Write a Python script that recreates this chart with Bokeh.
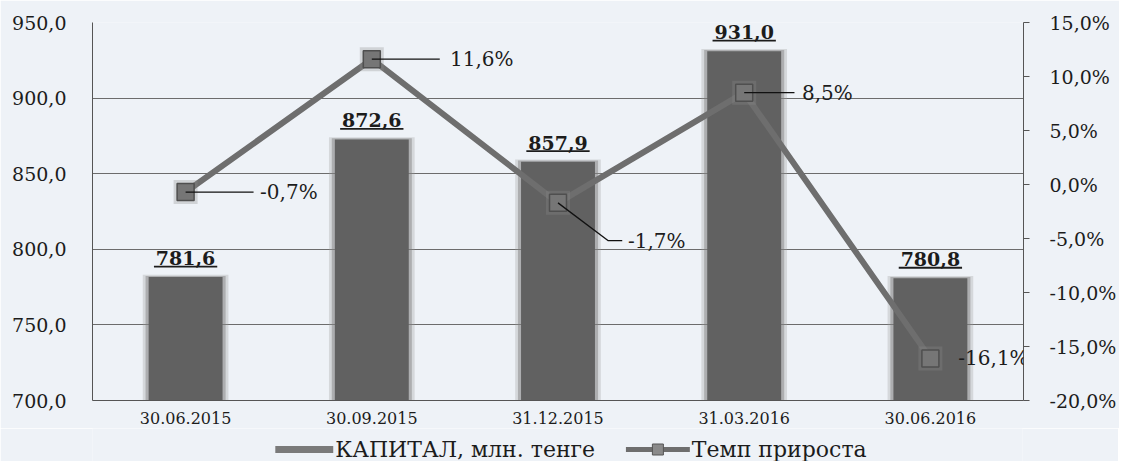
from bokeh.plotting import figure
from bokeh.layouts import column
from bokeh.models import (Range1d, LinearAxis, FixedTicker, CustomJSTickFormatter,
                          ColumnDataSource, LabelSet)
from bokeh.embed import file_html
from bokeh.resources import INLINE
from bokeh.core.properties import value

# ---------------- data ----------------
dates = ["30.06.2015", "30.09.2015", "31.12.2015", "31.03.2016", "30.06.2016"]
capital = [781.6, 872.6, 857.9, 931.0, 780.8]
growth = [-0.7, 11.6, -1.7, 8.5, -16.1]
capital_labels = ["781,6", "872,6", "857,9", "931,0", "780,8"]
growth_labels = ["-0,7%", "11,6%", "-1,7%", "8,5%", "-16,1%"]
series_names = ["КАПИТАЛ, млн. тенге", "Темп прироста"]
left_ticks = [700, 750, 800, 850, 900, 950]
right_ticks = [-20, -15, -10, -5, 0, 5, 10, 15]

# ---------------- label layout (offsets, axis units) ----------------
lead_bend_dx = [0, 0, 0.27, 0, 0]
lead_end_dx = [0.365, 0.365, 0.345, 0.27, 0]
lead_dy = [0, 0, -3.5, 0, 0]
label_dx = [0.40, 0.42, 0.376, 0.31, 0.15]

FONT = "DejaVu Serif"
BG = "#eef2f7"
TXT = "#1c1c1c"
BAR = "#616161"
LINE = "#6e6e6e"

xs = list(range(1, len(dates) + 1))

p = figure(frame_width=931, frame_height=378, output_backend="svg", toolbar_location=None,
           x_range=Range1d(0.5, len(dates) + 0.5), y_range=Range1d(700, 950),
           min_border_left=92, min_border_right=95, min_border_top=22,
           min_border_bottom=28)
p.background_fill_color = BG
p.border_fill_color = BG
p.outline_line_color = None

p.extra_y_ranges = {"pct": Range1d(-20, 15)}

# axes
p.xaxis.ticker = FixedTicker(ticks=xs)
p.xaxis.major_label_overrides = {x: d for x, d in zip(xs, dates)}
p.xaxis.major_tick_line_color = None
p.xaxis.minor_tick_line_color = None
p.xaxis.axis_line_color = "#555555"
p.xaxis.major_label_text_font = FONT
p.xaxis.major_label_text_font_size = "16px"
p.xaxis.major_label_text_color = TXT
p.xaxis.major_label_standoff = 5

p.yaxis.ticker = FixedTicker(ticks=left_ticks)
p.yaxis.formatter = CustomJSTickFormatter(code="return tick.toFixed(1).replace('.', ',');")
p.yaxis.major_tick_line_color = None
p.yaxis.minor_tick_line_color = None
p.yaxis.axis_line_color = "#555555"
p.yaxis.major_label_text_font = FONT
p.yaxis.major_label_text_font_size = "19px"
p.yaxis.major_label_text_color = TXT
p.yaxis.major_label_standoff = 20

raxis = LinearAxis(y_range_name="pct", ticker=FixedTicker(ticks=right_ticks),
                   formatter=CustomJSTickFormatter(code="return tick.toFixed(1).replace('.', ',') + '%';"))
raxis.major_tick_out = 6
raxis.major_tick_in = 0
raxis.major_tick_line_color = "#555555"
raxis.minor_tick_line_color = None
raxis.axis_line_color = "#555555"
raxis.major_label_text_font = FONT
raxis.major_label_text_font_size = "19px"
raxis.major_label_text_color = TXT
raxis.major_label_standoff = 20
p.add_layout(raxis, "right")

p.xgrid.grid_line_color = None
p.ygrid.grid_line_color = "#6c6c6c"
p.ygrid.grid_line_width = 1

# bars (soft halo + core)
p.vbar(x=xs, width=0.46, bottom=700, top=[c + 1.5 for c in capital],
       fill_color="#9a9a9a", fill_alpha=0.30, line_color=None)
p.vbar(x=xs, width=0.43, bottom=700, top=[c + 0.8 for c in capital],
       fill_color="#7c7c7c", fill_alpha=0.45, line_color=None)
p.vbar(x=xs, width=0.397, bottom=700, top=capital, fill_color=BAR, line_color=None)

# bar labels, bold + underline
bar_lab_src = ColumnDataSource(dict(x=xs, y=[c + 12.6 for c in capital], t=capital_labels))
p.add_layout(LabelSet(x="x", y="y", text="t", source=bar_lab_src,
                      text_align="center", text_baseline="middle",
                      text_font=value(FONT), text_font_style="bold",
                      text_font_size="19px", text_color=TXT))
p.segment(x0=[x - 0.17 for x in xs], x1=[x + 0.17 for x in xs],
          y0=[c + 7.0 for c in capital], y1=[c + 7.0 for c in capital],
          line_color=TXT, line_width=1.8)

# growth line
p.line(xs, growth, y_range_name="pct", line_color=LINE, line_width=6)
p.scatter(xs, growth, y_range_name="pct", marker="square", size=24,
          fill_color="#8c8c8c", fill_alpha=0.30, line_color=None)
p.scatter(xs, growth, y_range_name="pct", marker="square", size=17,
          fill_color="#767676", line_color="#4f4f4f", line_width=1.5)

# leader lines
lxs = [[x, x + b, x + e] for x, b, e in zip(xs, lead_bend_dx, lead_end_dx)]
lys = [[v, v + dy, v + dy] for v, dy in zip(growth, lead_dy)]
p.multi_line(xs=lxs, ys=lys, y_range_name="pct", line_color="#111111", line_width=1.3)

lab_src = ColumnDataSource(dict(
    lx=[x + d for x, d in zip(xs, label_dx)],
    ly=[v + dy for v, dy in zip(growth, lead_dy)],
    t=growth_labels))
p.add_layout(LabelSet(x="lx", y="ly", text="t", source=lab_src, y_range_name="pct",
                      text_align="left", text_baseline="middle",
                      text_font=value(FONT), text_font_size="20px", text_color=TXT))

# ---------------- legend strip (page-pixel coordinates; frame aligns with the plot frame) ----------------
LW, LH = 1118, 33
lg = figure(width=LW, height=LH, output_backend="svg", toolbar_location=None,
            x_range=Range1d(92, 1023), y_range=Range1d(0, LH),
            x_axis_type=None, y_axis_type=None,
            min_border_left=0, min_border_right=0, min_border_top=0, min_border_bottom=0)
lg.background_fill_color = BG
lg.border_fill_color = BG
lg.outline_line_color = None
lg.xgrid.grid_line_color = None
lg.ygrid.grid_line_color = None

ly = 12
lg.rect(x=[304], y=[ly], width=58, height=7, fill_color="#7a7a7a", line_color=None)
lg.text(x=[335], y=[ly], text=[series_names[0]], text_align="left", text_baseline="middle",
        text_font=value(FONT), text_font_size="22px", text_color=TXT)
lg.segment(x0=[626], y0=[ly], x1=[690], y1=[ly], line_color=LINE, line_width=5)
lg.scatter(x=[658], y=[ly], marker="square", size=11, fill_color="#8a8a8a",
           line_color="#555555", line_width=1)
lg.text(x=[692], y=[ly], text=[series_names[1]], text_align="left", text_baseline="middle",
        text_font=value(FONT), text_font_size="22px", text_color=TXT)

layout = column(p, lg, spacing=0)
open("out.html", "w").write(file_html(layout, INLINE))
